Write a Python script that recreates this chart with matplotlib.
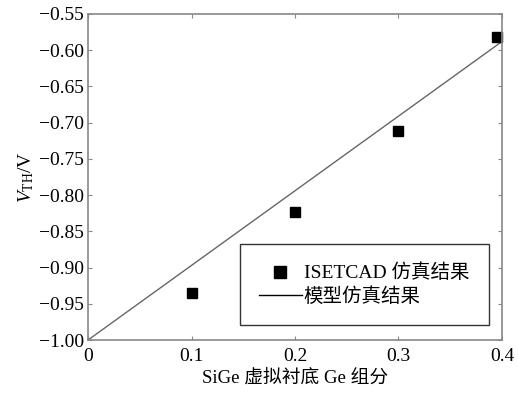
import numpy as np
import matplotlib
matplotlib.use("Agg")
import matplotlib.pyplot as plt
from matplotlib.lines import Line2D

plt.rcParams['font.family'] = ['Liberation Serif', 'Noto Sans CJK SC']
plt.rcParams['mathtext.fontset'] = 'custom'
plt.rcParams['mathtext.rm'] = 'Liberation Serif'
plt.rcParams['mathtext.it'] = 'Liberation Serif:italic'

# ISETCAD simulation points
ge_sim = [0.1, 0.2, 0.3, 0.395]
vth_sim = [-0.935, -0.823, -0.711, -0.582]

# model curve
ge_model = [0.0, 0.1, 0.2, 0.3, 0.4]
vth_model = [-1.0, -0.897, -0.794, -0.691, -0.588]

xticks = [0, 0.1, 0.2, 0.3, 0.4]
xtick_labels = ['0', '0.1', '0.2', '0.3', '0.4']
yticks = [-1.00, -0.95, -0.90, -0.85, -0.80, -0.75, -0.70, -0.65, -0.60, -0.55]

fig = plt.figure(figsize=(5.19, 3.94), dpi=100)
ax = fig.add_axes([0.1696, 0.137, 0.7976, 0.8275])

ax.plot(ge_model, vth_model, color='#666666', lw=1.0)
ax.plot(ge_sim, vth_sim, 's', color='black', ms=7.5, clip_on=False)

ax.set_xlim(0, 0.4)
ax.set_ylim(-1.0, -0.55)
ax.set_xticks(xticks)
ax.set_xticklabels(xtick_labels)
ax.set_yticks(yticks)
ax.set_yticklabels(['\u2212%.2f' % abs(v) for v in yticks])
ax.tick_params(direction='in', length=3, width=0.8, color='#888888',
               top=True, right=True, labelsize=14, pad=3)
ax.tick_params(axis='x', pad=6)
for s in ax.spines.values():
    s.set_color('#888888')
    s.set_linewidth(1.2)

ax.set_xlabel('SiGe 虚拟衬底 Ge 组分', fontsize=13.5, labelpad=3)
ax.set_ylabel(r'$V_{\mathrm{TH}}$/V', fontsize=14, labelpad=2)

handles = [Line2D([], [], marker='s', color='black', ls='none', ms=8),
           Line2D([], [], color='black', lw=1.0)]
leg = ax.legend(handles, ['ISETCAD 仿真结果', '模型仿真结果'],
                loc='lower right', bbox_to_anchor=(0.968, 0.045),
                fontsize=14, frameon=True, fancybox=False,
                edgecolor='black', handlelength=2.2, handletextpad=0.1,
                borderpad=1.0, labelspacing=0.25, borderaxespad=0)
leg.get_frame().set_linewidth(1.0)

fig.savefig('out.png', dpi=100)
